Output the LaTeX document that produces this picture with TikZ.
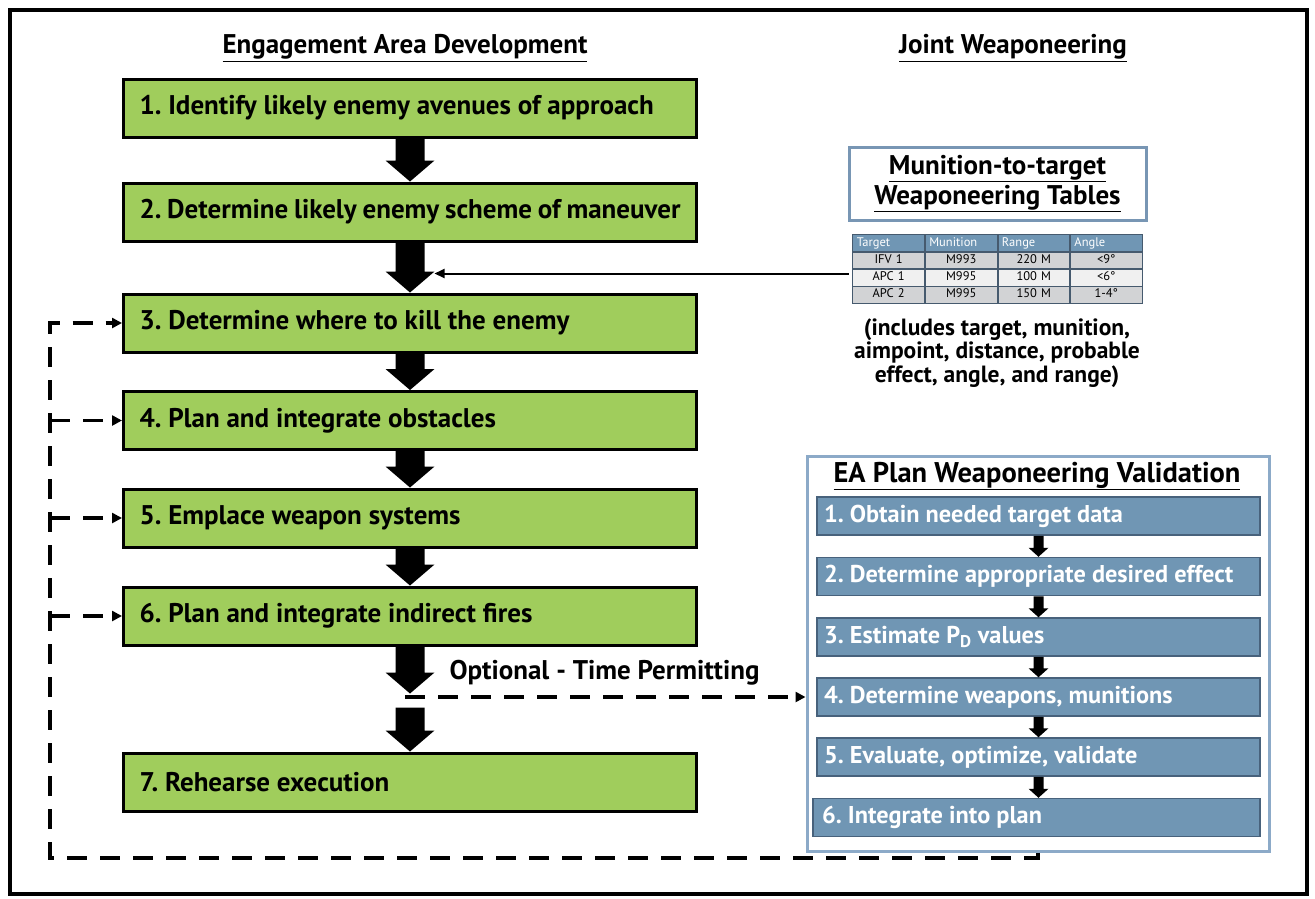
\documentclass[tikz,border=0pt]{standalone}
\usepackage{fontspec}
\setmainfont{PT Sans}
\usetikzlibrary{calc,matrix,arrows.meta}
\definecolor{gfill}{RGB}{160,205,92}
\definecolor{steel}{RGB}{112,150,180}
\definecolor{steeldark}{RGB}{72,98,124}
\definecolor{eaborder}{RGB}{140,170,200}
\definecolor{mtborder}{RGB}{120,150,180}
\definecolor{rowa}{RGB}{210,211,213}
\definecolor{rowb}{RGB}{240,240,240}
\definecolor{tblline}{RGB}{70,90,110}
\newcommand\blkarrow[5]{%
  \fill let \p1=(#1), \p2=(#2) in (\x1-#3,\y1) -- (\x1-#3,\y2+#5) -- (\x1-#4,\y2+#5) -- (\x1,\y2) -- (\x1+#4,\y2+#5) -- (\x1+#3,\y2+#5) -- (\x1+#3,\y1) -- cycle;}
\newcommand\bigarr[2]{\blkarrow{#1}{#2}{14.5pt}{24.5pt}{21pt}}
\newcommand\smallarr[2]{\blkarrow{#1}{#2}{5pt}{10pt}{9pt}}
\frenchspacing
\begin{document}
\begin{tikzpicture}[x=1pt,y=-1pt,
  gbox/.style={draw=black, line width=3pt, fill=gfill, minimum width=573pt, minimum height=58pt,
    inner xsep=16pt, anchor=west,
    execute at begin node={\hbox to 541pt\bgroup}, execute at end node={\hfil\egroup},
    font=\bfseries\fontsize{27}{30}\selectfont},
  vbox/.style={draw=steeldark, line width=1.5pt, fill=steel, minimum width=443pt, minimum height=38pt,
    inner xsep=7pt, text=white,
    execute at begin node={\hbox to 429pt\bgroup}, execute at end node={\hfil\egroup},
    font=\bfseries\fontsize{24.3}{28}\selectfont},
  ttl/.style={font=\bfseries\fontsize{27}{31}\selectfont},
  dsh/.style={line width=3.4pt, dash pattern=on 20pt off 13pt, -{Triangle[length=10pt,width=10pt]}},
  cell/.style={draw=tblline, line width=0.8pt, outer sep=0pt, minimum height=16.5pt,
    text width=63.75pt, inner xsep=4pt, inner ysep=0pt, text height=8.5pt, text depth=2.5pt,
    font=\fontsize{12.5}{13}\selectfont, align=center}
]
\useasboundingbox (0,0) rectangle (1315,898);
\draw[line width=4pt] (10,10) rectangle (1307,894);

% titles
\node[ttl] (t1) at (405,48) {\underline{Engagement Area Development}};
\node[ttl] (t2) at (1013,48) {\underline{Joint Weaponeering}};

% green boxes
\node[gbox] (b1) at (122,108) {1. Identify likely enemy avenues of approach};
\node[gbox] (b2) at (122,212) {2. Determine likely enemy scheme of maneuver};
\node[gbox] (b3) at (122,323) {3. Determine where to kill the enemy};
\node[gbox] (b4) at (122,420.5) {4. Plan and integrate obstacles};
\node[gbox] (b5) at (122,518) {5. Emplace weapon systems};
\node[gbox] (b6) at (122,616) {6. Plan and integrate indirect fires};
\node[gbox] (b7) at (122,782) {7. Rehearse execution};

\bigarr{b1.south}{b2.north}
\bigarr{b2.south}{b3.north}
\bigarr{b3.south}{b4.north}
\bigarr{b4.south}{b5.north}
\bigarr{b5.south}{b6.north}
\coordinate (o1) at ($(b6.south)+(0,47)$);
\coordinate (o2) at ($(b6.south)+(0,61)$);
\bigarr{b6.south}{o1}
\bigarr{o2}{b7.north}

% munition table block
\node[draw=mtborder, line width=3pt, minimum width=297pt, minimum height=73pt, align=center,
  font=\bfseries\fontsize{27}{30}\selectfont] (mt) at (997.5,183.5)
  {\underline{Munition-to-target}\\\underline{Weaponeering Tables}};

\matrix (tbl) [matrix of nodes, nodes={cell}, row sep=0pt, column sep=0pt,
  row 1/.style={nodes={fill=steel, text=white, align=left}},
  row 2/.style={nodes={fill=rowa}},
  row 3/.style={nodes={fill=rowb}},
  row 4/.style={nodes={fill=rowa}}] at (997.5,269)
{
Target & Munition & Range & Angle \\
IFV 1 & M993 & 220 M & <9° \\
APC 1 & M995 & 100 M & <6° \\
APC 2 & M995 & 150 M & 1-4° \\
};

\node[align=center, font=\bfseries\fontsize{23.5}{23.5}\selectfont] (inc) at (997,353)
  {(includes target, munition,\\aimpoint, distance, probable\\effect, angle, and range)};

\coordinate (hd) at ($(b2.south)+(24.5,31)$);
\draw[line width=2pt, -{Triangle[length=10pt,width=9pt]}] (tbl.west |- hd) -- (hd);

% EA plan validation
\node[draw=eaborder, line width=3pt, minimum width=462pt, minimum height=395pt] (ea) at (1038,653.5) {};
\node[font=\bfseries\fontsize{28.5}{32}\selectfont] (eat) at (1037,476) {\underline{EA Plan Weaponeering Validation}};
\node[vbox] (v1) at (1038.5,516) {1. Obtain needed target data};
\node[vbox] (v2) at (1038.5,576.5) {2. Determine appropriate desired effect};
\node[vbox] (v3) at (1038.5,637) {3. Estimate P\textsubscript{D} values};
\node[vbox] (v4) at (1038.5,697) {4. Determine weapons, munitions};
\node[vbox] (v5) at (1038.5,757) {5. Evaluate, optimize, validate};
\node[vbox, minimum width=447pt] (v6) at (1036.5,817.5) {6. Integrate into plan};
\smallarr{v1.south}{v2.north}
\smallarr{v2.south}{v3.north}
\smallarr{v3.south}{v4.north}
\smallarr{v4.south}{v5.north}
\smallarr{v5.south}{v6.north}

% optional
\node[font=\bfseries\fontsize{27}{30}\selectfont, anchor=west] (opt) at (446,673) {Optional - Time Permitting};
\coordinate (os) at (405,697);
\draw[dsh] (os) -- (os -| ea.west);

% feedback dashed loop
\coordinate (L) at (50,858);
\draw[dsh] (ea.south) |- (L) |- (b3.west);
\draw[dsh] (L |- b4.west) -- (b4.west);
\draw[dsh] (L |- b5.west) -- (b5.west);
\draw[dsh] (L |- b6.west) -- (b6.west);
\end{tikzpicture}
\end{document}
